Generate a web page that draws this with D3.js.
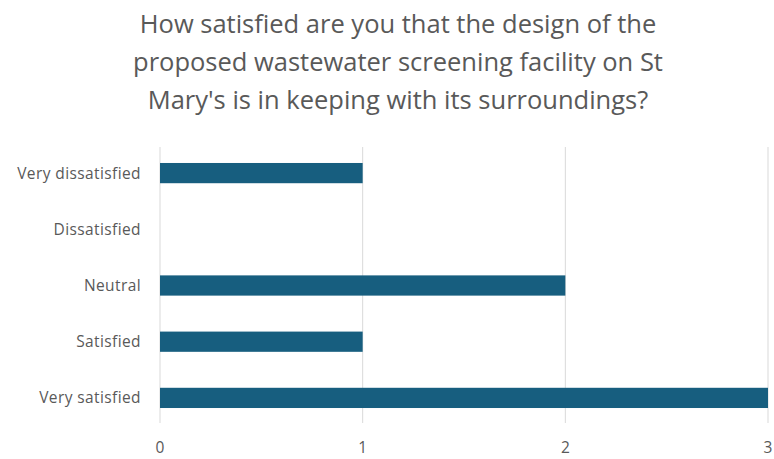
<!DOCTYPE html>
<html>
<head>
<meta charset="utf-8" />
<script src="https://cdn.jsdelivr.net/npm/d3@7"></script>
<style>
    body { margin: 0; background: #fff; }
    text { font-family: "Open Sans", "Noto Sans", sans-serif; fill: #595959; }
</style>
</head>
<body>
<div id="chart"></div>
<script>
// Data
const categories = ["Very dissatisfied", "Dissatisfied", "Neutral", "Satisfied", "Very satisfied"];
const counts = [1, 0, 2, 1, 3];
const xTicks = [0, 1, 2, 3];
const titleLines = [
    "How satisfied are you that the design of the",
    "proposed wastewater screening facility on St",
    "Mary's is in keeping with its surroundings?"
];

const width = 774;
const height = 459;
const margin = { top: 145, right: 6, bottom: 33, left: 160 };

const svg = d3.select("#chart")
    .append("svg")
    .attr("width", width)
    .attr("height", height);

// Title
svg.append("g")
    .selectAll("text")
    .data(titleLines)
    .enter()
    .append("text")
    .attr("x", 398)
    .attr("y", (d, i) => 33 + i * 38)
    .attr("text-anchor", "middle")
    .style("font-size", "25.5px")
    .text(d => d);

const x = d3.scaleLinear()
    .domain([0, 3])
    .range([margin.left, width - margin.right]);

const y = d3.scaleBand()
    .domain(categories)
    .range([margin.top, height - margin.bottom])
    .paddingInner(0.64)
    .paddingOuter(0.32);

// Gridlines
svg.append("g")
    .selectAll("line")
    .data(xTicks)
    .enter()
    .append("line")
    .attr("x1", d => x(d))
    .attr("x2", d => x(d))
    .attr("y1", margin.top + 2)
    .attr("y2", height - margin.bottom - 3)
    .attr("stroke", "#d9d9d9")
    .attr("stroke-width", 1);

// Bars
svg.append("g")
    .selectAll("rect")
    .data(categories)
    .enter()
    .append("rect")
    .attr("x", x(0))
    .attr("y", d => y(d))
    .attr("width", (d, i) => x(counts[i]) - x(0))
    .attr("height", y.bandwidth())
    .attr("fill", "#175e7f");

// Category labels
svg.append("g")
    .selectAll("text")
    .data(categories)
    .enter()
    .append("text")
    .attr("x", 141)
    .attr("y", d => y(d) + y.bandwidth() / 2)
    .attr("dy", "0.35em")
    .attr("text-anchor", "end")
    .style("font-size", "15.5px")
    .style("letter-spacing", "0.4px")
    .text(d => d);

// X tick labels
svg.append("g")
    .selectAll("text")
    .data(xTicks)
    .enter()
    .append("text")
    .attr("x", d => x(d))
    .attr("y", 448)
    .attr("dy", "0.35em")
    .attr("text-anchor", "middle")
    .style("font-size", "15.5px")
    .text(d => d);
</script>
</body>
</html>
